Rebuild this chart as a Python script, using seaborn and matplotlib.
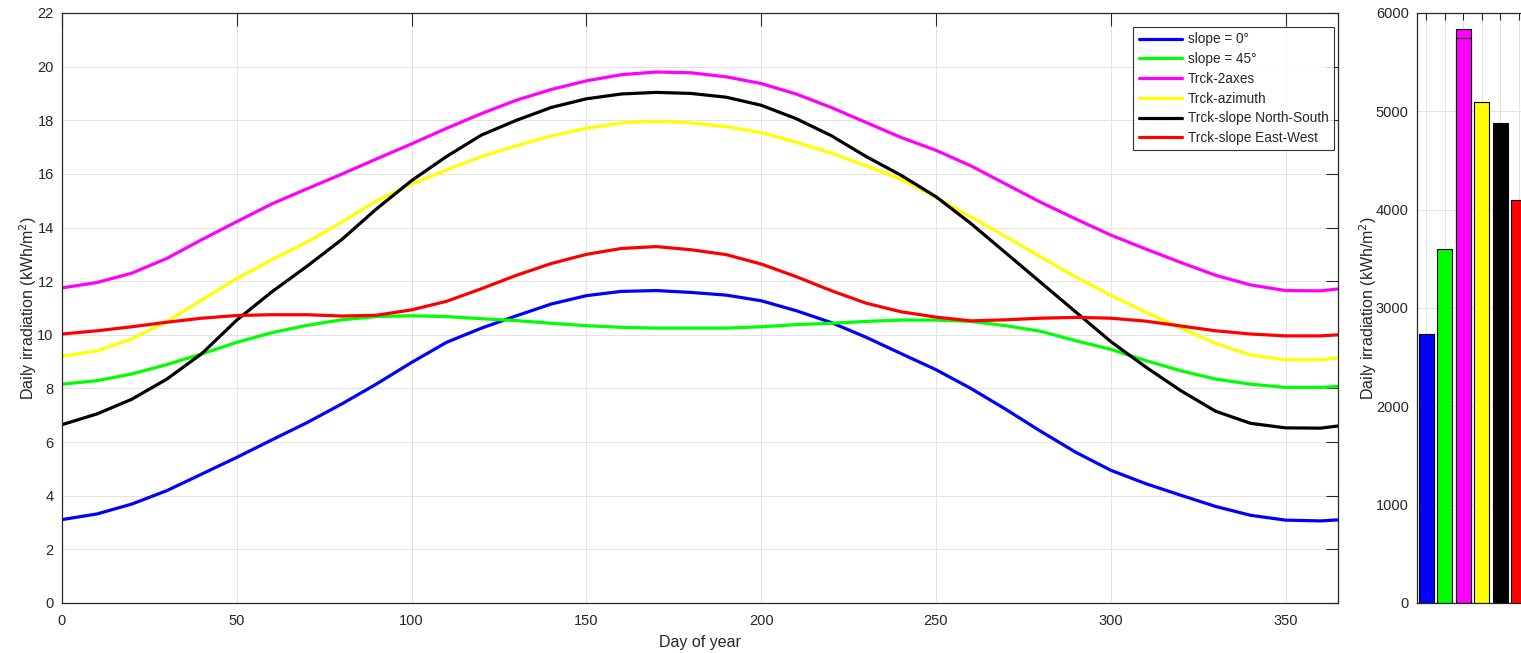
import numpy as np
import pandas as pd
import matplotlib
matplotlib.use("Agg")
import matplotlib.pyplot as plt
import seaborn as sns

# ---------------- data ----------------
days = [0, 10, 20, 30, 40, 50, 60, 70, 80, 90, 100, 110, 120, 130, 140, 150, 160, 170, 180,
        190, 200, 210, 220, 230, 240, 250, 260, 270, 280, 290, 300, 310, 320, 330, 340, 350, 360, 365]

slope_0 = [3.11, 3.32, 3.69, 4.19, 4.81, 5.43, 6.08, 6.72, 7.42, 8.17, 8.97, 9.72, 10.25, 10.71,
           11.15, 11.46, 11.62, 11.65, 11.58, 11.48, 11.27, 10.9, 10.46, 9.91, 9.3, 8.7, 8.0, 7.22,
           6.4, 5.62, 4.95, 4.45, 4.02, 3.6, 3.27, 3.09, 3.06, 3.1]
slope_45 = [8.16, 8.29, 8.54, 8.89, 9.29, 9.72, 10.08, 10.35, 10.56, 10.68, 10.71, 10.68, 10.6,
            10.53, 10.43, 10.34, 10.28, 10.25, 10.25, 10.25, 10.3, 10.38, 10.43, 10.5, 10.55, 10.55,
            10.5, 10.34, 10.13, 9.78, 9.46, 9.04, 8.66, 8.35, 8.16, 8.04, 8.04, 8.07]
trck_2axes = [11.75, 11.95, 12.3, 12.85, 13.55, 14.22, 14.88, 15.44, 15.99, 16.56, 17.12, 17.7,
              18.25, 18.75, 19.15, 19.47, 19.7, 19.8, 19.77, 19.62, 19.37, 18.98, 18.48, 17.92,
              17.36, 16.88, 16.3, 15.62, 14.94, 14.32, 13.72, 13.2, 12.7, 12.22, 11.86, 11.65,
              11.64, 11.71]
trck_azimuth = [9.2, 9.4, 9.85, 10.5, 11.3, 12.1, 12.8, 13.45, 14.2, 15.0, 15.62, 16.15, 16.65,
                17.05, 17.42, 17.7, 17.9, 17.96, 17.9, 17.76, 17.54, 17.18, 16.78, 16.3, 15.8,
                15.13, 14.4, 13.66, 12.9, 12.16, 11.47, 10.85, 10.25, 9.68, 9.25, 9.07, 9.07, 9.13]
trck_ns = [6.65, 7.05, 7.6, 8.35, 9.3, 10.55, 11.6, 12.55, 13.55, 14.7, 15.75, 16.65, 17.45,
           18.0, 18.48, 18.8, 18.98, 19.04, 19.0, 18.86, 18.56, 18.06, 17.43, 16.65, 15.95, 15.15,
           14.15, 13.05, 11.95, 10.85, 9.75, 8.8, 7.92, 7.15, 6.7, 6.53, 6.52, 6.6]
trck_ew = [10.03, 10.15, 10.3, 10.47, 10.62, 10.72, 10.75, 10.75, 10.7, 10.73, 10.93, 11.25, 11.72,
           12.22, 12.66, 13.0, 13.22, 13.29, 13.17, 12.99, 12.64, 12.17, 11.65, 11.18, 10.86,
           10.66, 10.52, 10.56, 10.62, 10.65, 10.62, 10.51, 10.33, 10.15, 10.03, 9.96, 9.96, 10.0]

series_names = ["slope = 0°", "slope = 45°", "Trck-2axes", "Trck-azimuth",
                "Trck-slope North-South", "Trck-slope East-West"]
series_values = [slope_0, slope_45, trck_2axes, trck_azimuth, trck_ns, trck_ew]
series_colors = ["#0000ff", "#00ff00", "#ff00ff", "#ffff00", "#000000", "#ff0000"]

annual_totals = [2735, 3600, 5840, 5095, 4885, 4100]
inner_mark_2axes = 5745

x_ticks = [0, 50, 100, 150, 200, 250, 300, 350]
y_ticks = [0, 2, 4, 6, 8, 10, 12, 14, 16, 18, 20, 22]
bar_y_ticks = [0, 1000, 2000, 3000, 4000, 5000, 6000]

# ---------------- style ----------------
sns.set_style("white")
plt.rcParams["font.family"] = ["Liberation Sans", "DejaVu Sans"]
plt.rcParams["axes.unicode_minus"] = False

fg = "#262626"
grid_c = "#e3e3e3"

W, H = 1521, 653
fig = plt.figure(figsize=(W / 100, H / 100), dpi=100)
fig.patch.set_facecolor("white")

# main axes
ax = fig.add_axes([62 / W, 1 - 603 / H, 1276 / W, 590 / H])
long = pd.DataFrame({
    "day": np.tile(days, len(series_names)),
    "value": np.concatenate([np.asarray(v, float) for v in series_values]),
    "series": np.repeat(series_names, len(days)),
})
sns.lineplot(data=long, x="day", y="value", hue="series", hue_order=series_names,
             palette=dict(zip(series_names, series_colors)), linewidth=2.3, ax=ax,
             sort=False, estimator=None)
for ln in ax.get_lines():
    ln.set_solid_joinstyle("round")
ax.set_xlim(0, 365)
ax.set_ylim(0, 22)
ax.set_xticks(x_ticks)
ax.set_yticks(y_ticks)
ax.grid(True, color=grid_c, linewidth=0.7)
ax.set_axisbelow(True)
ax.tick_params(direction="in", length=9, width=0.8, colors=fg, labelsize=10.5,
               top=True, right=True, pad=6)
ax.tick_params(axis="x", pad=8)
for s in ax.spines.values():
    s.set_color(fg)
    s.set_linewidth(0.9)
ax.set_xlabel("Day of year", fontsize=11.5, color=fg, labelpad=5)
ax.set_ylabel("Daily irradiation (kWh/m$^2$)", fontsize=11.5, color=fg, labelpad=-1)

handles, labels = ax.get_legend_handles_labels()
leg = ax.legend(handles, labels, loc="upper right",
                bbox_to_anchor=(1 - 4 / 1276, 1 - 14 / 590), borderaxespad=0,
                fontsize=9.8, frameon=True, fancybox=False, edgecolor="black",
                handlelength=3.2, handletextpad=0.4, labelspacing=0.42, borderpad=0.4)
leg.get_frame().set_linewidth(0.8)
for ln in leg.get_lines():
    ln.set_linewidth(2.3)

# bar axes (partially cut off on the right, as in the reference)
ax2 = fig.add_axes([1417 / W, 1 - 603 / H, 111 / W, 590 / H])
bar_df = pd.DataFrame({"series": series_names, "total": annual_totals})
sns.barplot(data=bar_df, x="series", y="total", hue="series", hue_order=series_names,
            order=series_names, palette=dict(zip(series_names, series_colors)),
            saturation=1, edgecolor="black", linewidth=0.8, width=0.8, legend=False, ax=ax2)
ax2.bar([series_names.index("Trck-2axes")], [inner_mark_2axes], width=0.8, fill=False,
        edgecolor="black", linewidth=0.8)
ax2.set_xlim(-0.5, 5.5)
ax2.set_ylim(0, 6000)
ax2.set_yticks(bar_y_ticks)
ax2.set_xticks(range(len(series_names)))
ax2.set_xticklabels([""] * len(series_names))
ax2.grid(True, color=grid_c, linewidth=0.7)
ax2.set_axisbelow(True)
ax2.tick_params(direction="in", length=5, width=0.8, colors=fg, labelsize=10.5,
                top=True, right=True, pad=6)
for s in ax2.spines.values():
    s.set_color(fg)
    s.set_linewidth(0.9)
ax2.set_xlabel("")
ax2.set_ylabel("Daily irradiation (kWh/m$^2$)", fontsize=11.5, color=fg, labelpad=-2)

fig.savefig("out.png", dpi=100, facecolor="white")
